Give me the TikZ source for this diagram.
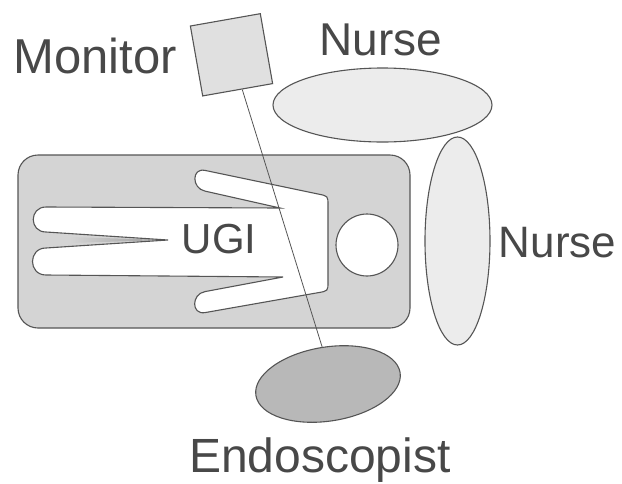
\documentclass[tikz,border=0pt]{standalone}
\usepackage{fontspec}
\setmainfont{Liberation Sans}
\usetikzlibrary{shapes.geometric}
\definecolor{ink}{RGB}{85,85,85}
\definecolor{txt}{RGB}{72,72,72}
\definecolor{bedC}{HTML}{D4D4D4}
\definecolor{nurseC}{HTML}{ECECEC}
\definecolor{monC}{HTML}{E0E0E0}
\definecolor{endoC}{HTML}{B8B8B8}

\begin{document}
\begin{tikzpicture}[x=1pt,y=-1pt,
 outl/.style={draw=ink, line width=1.1pt},
 pers/.style={outl, ellipse, inner sep=0, fill=nurseC},
 lbl/.style={font=\fontsize{46}{48}\selectfont, text=txt, inner sep=0, anchor=base west},
]
 \useasboundingbox (0,0) rectangle (622,483);
 % bed, patient body and head
 \node[outl, fill=bedC, rounded corners=20pt, minimum width=392pt, minimum height=173pt] (bed) at (214,241.5) {};
 \shade[left color=bedC, right color=gray!80] (70,237) -- (166,240) -- (70,243) -- cycle; % gap between the legs
 \draw[outl, fill=white] (280,208) -- (46,207) .. controls (29,207) and (29,232) .. (46,232)
   -- (168,240) -- (46,248) .. controls (28,248) and (28,275) .. (46,275)
   -- (283,277) -- (205,291.6) .. controls (191.2,294) and (191.2,315) .. (205,312.6)
   -- (318,292.7) .. controls (328,291) .. (328,282) -- (328,205) .. controls (328,196) .. (318,194)
   -- (205,170.4) .. controls (191.5,167.6) and (191.5,188.3) .. (205,191.1) -- cycle;
 \node[outl, fill=white, circle, minimum size=62pt, inner sep=0] (head) at (367,245) {};
 \node[lbl, font=\fontsize{42}{44}\selectfont] (ugi) at (181.7,253) {UGI};
 % staff around the bed
 \node[pers, minimum width=219pt, minimum height=74pt] (nurseA) at (382.5,105) {};
 \node[pers, minimum width=65pt, minimum height=208pt] (nurseB) at (457.5,241) {};
 \node[pers, fill=endoC, minimum width=146pt, minimum height=74pt, rotate=9] (endo) at (328,384) {};
 \node[outl, fill=monC, minimum size=71pt, inner sep=0, rotate=10] (mon) at (231.5,54.8) {};
 \draw[ink, line width=0.8pt] (mon) -- (endo.north);
 % labels
 \node[lbl, font=\fontsize{49}{50}\selectfont] (monL) at (13.4,73) {Monitor};
 \node[lbl] (nurseAL) at (319.5,55) {Nurse};
 \node[lbl, font=\fontsize{44}{46}\selectfont] (nurseBL) at (498.6,257) {Nurse};
 \node[lbl, font=\fontsize{48}{50}\selectfont] (endoL) at (189,472) {Endoscopist};
\end{tikzpicture}
\end{document}
